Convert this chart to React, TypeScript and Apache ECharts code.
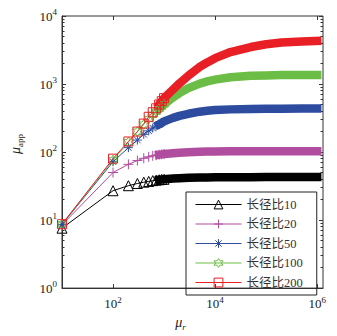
import React, { useEffect, useRef } from 'react';
import * as echarts from 'echarts';

// ---- data ----
const MU_R = [10, 100, 200, 300, 400, 500, 600, 700, 800, 900, 1000, 1500, 2000, 3000, 5000, 7000, 10000, 20000, 50000, 100000, 200000, 500000, 1000000];

const RATIO_10 = [7.6, 27, 32, 34.5, 36, 37, 38, 38.6, 39.1, 39.5, 39.8, 40.8, 41.3, 41.8, 42.2, 42.4, 42.5, 42.6, 42.7, 42.8, 42.8, 42.8, 42.8];
const RATIO_20 = [8.5, 50, 66, 75, 81, 85, 88, 90, 91.5, 92.5, 93.5, 96, 98, 99.5, 101, 101.5, 102, 102.5, 103, 103, 103, 103, 103];
const RATIO_50 = [8.6, 72, 116, 150, 182, 205, 225, 242, 256, 268, 282, 318, 340, 365, 392, 404, 414, 424, 431, 433, 434, 435, 435];
const RATIO_100 = [8.7, 76, 140, 200, 255, 305, 350, 392, 430, 466, 500, 635, 735, 870, 1015, 1095, 1160, 1255, 1320, 1340, 1352, 1360, 1362];
const RATIO_200 = [8.7, 80, 143, 200, 262, 330, 385, 440, 500, 560, 620, 830, 1020, 1330, 1780, 2080, 2400, 2950, 3500, 3850, 4080, 4230, 4300];

const SERIES_NAMES = ['长径比10', '长径比20', '长径比50', '长径比100', '长径比200'];

const X_TICKS = [100, 10000, 1000000];
const Y_TICKS = [1, 10, 100, 1000, 10000];
const Y_MINOR_TICKS = [2, 3, 4, 5, 6, 7, 8, 9, 20, 30, 40, 50, 60, 70, 80, 90, 200, 300, 400, 500, 600, 700, 800, 900, 2000, 3000, 4000, 5000, 6000, 7000, 8000, 9000];

const X_MIN = 10;
const X_MAX = 1300000;
const Y_MIN = 1;
const Y_MAX = 10000;

// ---- styles ----
const FONT = '"Liberation Serif", "Times New Roman", serif';
const CJK_FONT = '"Liberation Serif", "Noto Sans CJK SC", serif';
const AXIS_COLOR = '#333333';
const TEXT_COLOR = '#222222';

const PLUS = 'path://M5,0L5,10M0,5L10,5';
const STAR = 'path://M5,0L5,10M0,5L10,5M1.46,1.46L8.54,8.54M1.46,8.54L8.54,1.46';
const HEXAGRAM = 'path://M5,0L6.44,2.5L9.33,2.5L7.89,5L9.33,7.5L6.44,7.5L5,10L3.56,7.5L0.67,7.5L2.11,5L0.67,2.5L3.56,2.5Z';

const SERIES_STYLE = [
  { values: RATIO_10, color: '#000000', symbol: 'triangle', size: 10 },
  { values: RATIO_20, color: '#b14d9f', symbol: PLUS, size: 10 },
  { values: RATIO_50, color: '#2d4c9f', symbol: STAR, size: 9 },
  { values: RATIO_100, color: '#6cbd45', symbol: HEXAGRAM, size: 10 },
  { values: RATIO_200, color: '#e81f25', symbol: 'rect', size: 9 },
];

const MARKER_END = 11; // markers drawn individually up to mu_r = 1000
const BAND_START = 8; // dense markers merge into a band from about mu_r = 800

const pairs = (vals: number[], a: number, b: number) =>
  MU_R.slice(a, b).map((x, i) => [x, vals[a + i]]);

const sup = (v: number) => `{b|10}{s|${Math.round(Math.log10(v))}}`;

const tickRich = {
  b: { fontSize: 13, fontFamily: FONT, color: TEXT_COLOR, lineHeight: 17 },
  s: { fontSize: 9, fontFamily: FONT, color: TEXT_COLOR, verticalAlign: 'top' },
};

const nameRich = {
  m: { fontSize: 14, fontStyle: 'italic', fontFamily: FONT, color: TEXT_COLOR, lineHeight: 18 },
  s: { fontSize: 9, fontFamily: FONT, color: TEXT_COLOR, verticalAlign: 'bottom' },
  si: { fontSize: 9, fontStyle: 'italic', fontFamily: FONT, color: TEXT_COLOR, verticalAlign: 'bottom' },
};

export default function App() {
  const ref = useRef<HTMLDivElement>(null);

  useEffect(() => {
    if (!ref.current) return;
    const chart = echarts.init(ref.current, null, { renderer: 'svg' });

    const series: any[] = [];
    SERIES_STYLE.forEach((st, k) => {
      series.push({
        name: SERIES_NAMES[k] + ' ',
        type: 'line',
        data: pairs(st.values, BAND_START, MU_R.length),
        showSymbol: false,
        symbol: 'none',
        lineStyle: { color: st.color, width: 8.5, cap: 'square', join: 'round' },
        itemStyle: { color: st.color },
        clip: false,
        silent: true,
        emphasis: { disabled: true },
        z: 2,
      });
      series.push({
        name: SERIES_NAMES[k],
        type: 'line',
        data: pairs(st.values, 0, MARKER_END),
        symbol: st.symbol,
        symbolSize: st.size,
        symbolKeepAspect: true,
        showSymbol: true,
        lineStyle: { color: st.color, width: 1 },
        itemStyle: { color: 'rgba(0,0,0,0)', borderColor: st.color, borderWidth: 1 },
        clip: false,
        silent: true,
        emphasis: { disabled: true },
        z: 2,
      });
    });

    chart.setOption({
      animation: false,
      backgroundColor: '#ffffff',
      grid: {
        left: 52,
        top: 16,
        right: 14,
        bottom: 38,
        show: true,
        borderColor: AXIS_COLOR,
        borderWidth: 1,
        backgroundColor: '#ffffff',
      },
      legend: {
        data: SERIES_NAMES,
        orient: 'vertical',
        left: 186,
        top: 192,
        padding: [6, 14, 6, 9],
        itemWidth: 46,
        itemHeight: 11,
        itemGap: 6.5,
        backgroundColor: 'rgba(0,0,0,0)',
        borderColor: '#222222',
        borderWidth: 1,
        selectedMode: false,
        itemStyle: { borderWidth: 1 },
        lineStyle: { width: 1 },
        textStyle: { fontSize: 12.5, lineHeight: 13, fontFamily: CJK_FONT, color: '#333333' },
      },
      xAxis: [
        {
          type: 'log',
          logBase: 10,
          min: X_MIN,
          max: X_MAX,
          position: 'bottom',
          axisLine: { show: true, lineStyle: { color: AXIS_COLOR, width: 1 } },
          axisTick: { show: true, inside: true, length: 4, customValues: X_TICKS, lineStyle: { color: AXIS_COLOR } },
          axisLabel: { show: true, customValues: X_TICKS, margin: 7, formatter: (v: number) => sup(v), rich: tickRich },
          splitLine: { show: false },
          minorTick: { show: false },
          name: '{m|μ}{si|r}',
          nameLocation: 'middle',
          nameGap: 22,
          nameTextStyle: { rich: nameRich, padding: [0, 24, 0, 0] },
        },
        {
          type: 'log',
          logBase: 10,
          min: X_MIN,
          max: X_MAX,
          position: 'top',
          axisLine: { show: false },
          axisTick: { show: true, inside: true, length: 4, customValues: X_TICKS, lineStyle: { color: AXIS_COLOR } },
          axisLabel: { show: false },
          splitLine: { show: false },
        },
      ],
      yAxis: [
        {
          type: 'log',
          logBase: 10,
          min: Y_MIN,
          max: Y_MAX,
          position: 'left',
          axisLine: { show: true, lineStyle: { color: AXIS_COLOR, width: 1 } },
          axisTick: { show: true, inside: true, length: 4, customValues: Y_TICKS, lineStyle: { color: AXIS_COLOR } },
          axisLabel: { show: true, customValues: Y_TICKS, margin: 5, formatter: (v: number) => sup(v), rich: tickRich },
          splitLine: { show: false },
          name: '{m|μ}{s|app}',
          nameLocation: 'middle',
          nameRotate: 90,
          nameGap: 38,
          nameTextStyle: { rich: nameRich, padding: [0, 0, 0, 16] },
        },
        {
          type: 'log',
          logBase: 10,
          min: Y_MIN,
          max: Y_MAX,
          position: 'left',
          axisLine: { show: false },
          axisTick: { show: true, inside: true, length: 2.5, customValues: Y_MINOR_TICKS, lineStyle: { color: AXIS_COLOR } },
          axisLabel: { show: false },
          splitLine: { show: false },
        },
        {
          type: 'log',
          logBase: 10,
          min: Y_MIN,
          max: Y_MAX,
          position: 'right',
          axisLine: { show: false },
          axisTick: { show: true, inside: true, length: 4, customValues: Y_TICKS, lineStyle: { color: AXIS_COLOR } },
          axisLabel: { show: false },
          splitLine: { show: false },
        },
        {
          type: 'log',
          logBase: 10,
          min: Y_MIN,
          max: Y_MAX,
          position: 'right',
          axisLine: { show: false },
          axisTick: { show: true, inside: true, length: 2.5, customValues: Y_MINOR_TICKS, lineStyle: { color: AXIS_COLOR } },
          axisLabel: { show: false },
          splitLine: { show: false },
        },
      ],
      series,
    });

    return () => chart.dispose();
  }, []);

  return (
    <div
      ref={ref}
      style={{ position: 'fixed', left: 0, top: 0, width: 337, height: 336, background: '#fff' }}
    />
  );
}
